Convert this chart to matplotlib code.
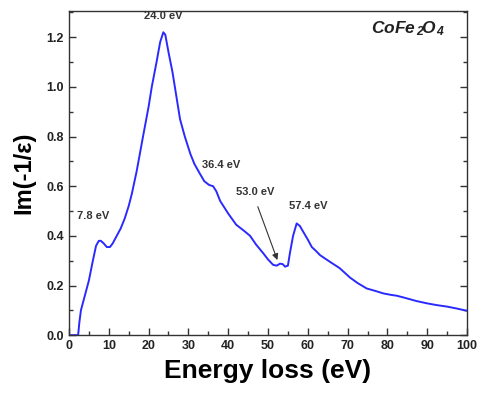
import matplotlib
matplotlib.use("Agg")
import matplotlib.pyplot as plt
from matplotlib.ticker import MultipleLocator

plt.rcParams['font.family'] = ['Liberation Sans', 'DejaVu Sans']
plt.rcParams['font.weight'] = 'bold'
plt.rcParams['mathtext.fontset'] = 'custom'
plt.rcParams['mathtext.it'] = 'Liberation Sans:italic:bold'
plt.rcParams['mathtext.rm'] = 'Liberation Sans:bold'
plt.rcParams['mathtext.bf'] = 'Liberation Sans:italic:bold'

energy = [0, 2.3, 2.6, 3.0, 3.5, 4.0, 5.0, 6.0, 6.8, 7.5, 8.0, 8.7, 9.5, 10.3, 11.0, 12.0, 13.0, 14.0,
          15.0, 15.8, 17.0, 18.6, 20.0, 20.8, 22.0, 22.9, 23.7, 24.2, 25.0, 26.0, 26.6, 27.9, 29.1, 30.5,
          31.5, 32.9, 34.0, 35.2, 36.2, 37.0, 37.5, 38.0, 40.0, 42.0, 44.0, 45.5, 47.0, 48.8, 50.0, 51.3,
          52.2, 53.0, 53.7, 54.3, 55.0, 55.5, 56.3, 57.2, 58.0, 58.9, 60.0, 61.0, 62.0, 63.1, 65.6, 68.0,
          70.6, 72.5, 74.8, 77.0, 79.0, 81.0, 82.3, 84.0, 87.4, 90.0, 92.4, 95.0, 97.5, 100.0]
loss = [0.0, 0.0, 0.05, 0.10, 0.13, 0.16, 0.22, 0.30, 0.36, 0.38, 0.38, 0.37, 0.355, 0.355, 0.37, 0.40, 0.43, 0.47,
        0.52, 0.57, 0.66, 0.80, 0.92, 1.00, 1.10, 1.18, 1.22, 1.21, 1.14, 1.06, 1.00, 0.87, 0.80, 0.73,
        0.69, 0.65, 0.62, 0.605, 0.60, 0.58, 0.56, 0.54, 0.49, 0.445, 0.42, 0.40, 0.365, 0.33, 0.305, 0.283,
        0.28, 0.288, 0.286, 0.276, 0.28, 0.33, 0.40, 0.45, 0.44, 0.415, 0.385, 0.355, 0.34, 0.322, 0.295, 0.27,
        0.232, 0.21, 0.188, 0.178, 0.168, 0.162, 0.159, 0.152, 0.137, 0.128, 0.121, 0.115, 0.107, 0.098]

peak_labels = ["24.0 eV", "36.4 eV", "53.0 eV", "57.4 eV", "7.8 eV"]
label_x = [23.7, 33.5, 42.0, 55.3, 1.9]
label_y = [1.265, 0.665, 0.555, 0.500, 0.460]
label_ha = ['center', 'left', 'left', 'left', 'left']

fig = plt.figure(figsize=(4.79, 3.99), dpi=100)
ax = fig.add_axes([0.144, 0.160, 0.831, 0.812])
ax.plot(energy, loss, color='#2a2aff', lw=1.4)

ax.set_xlim(0, 100)
ax.set_ylim(0, 1.305)
ax.xaxis.set_major_locator(MultipleLocator(10))
ax.xaxis.set_minor_locator(MultipleLocator(5))
ax.yaxis.set_major_locator(MultipleLocator(0.2))
ax.yaxis.set_minor_locator(MultipleLocator(0.1))
ax.yaxis.set_major_formatter(matplotlib.ticker.FormatStrFormatter('%.1f'))
ax.tick_params(which='both', direction='in', top=False, right=True, labelsize=9, colors='#333333',
               labelcolor='#222222')
ax.tick_params(which='major', length=5, width=1)
ax.tick_params(which='minor', length=3, width=1)
for s in ax.spines.values():
    s.set_color('#333333')
    s.set_linewidth(1)
for lab in ax.get_xticklabels() + ax.get_yticklabels():
    lab.set_fontweight('bold')

ax.set_xlabel('Energy loss (eV)', fontsize=19, fontweight='bold', labelpad=5)
ax.set_ylabel('Im(-1/ε)', fontsize=17, fontweight='bold', labelpad=8)

for t, x, y, ha in zip(peak_labels, label_x, label_y, label_ha):
    ax.text(x, y, t, ha=ha, va='bottom', fontsize=8, fontweight='bold', color='#333333')

ax.annotate('', xy=(52.6, 0.292), xytext=(47.2, 0.528),
            arrowprops=dict(arrowstyle='-|>', color='#333333', lw=0.8, mutation_scale=9))

ax.text(94.5, 1.235, r'$\mathbf{CoFe_{\,2}\!O_{\,4}}$', ha='right', va='center', fontsize=12.5, color='#222222')

fig.savefig('out.png', dpi=100)
